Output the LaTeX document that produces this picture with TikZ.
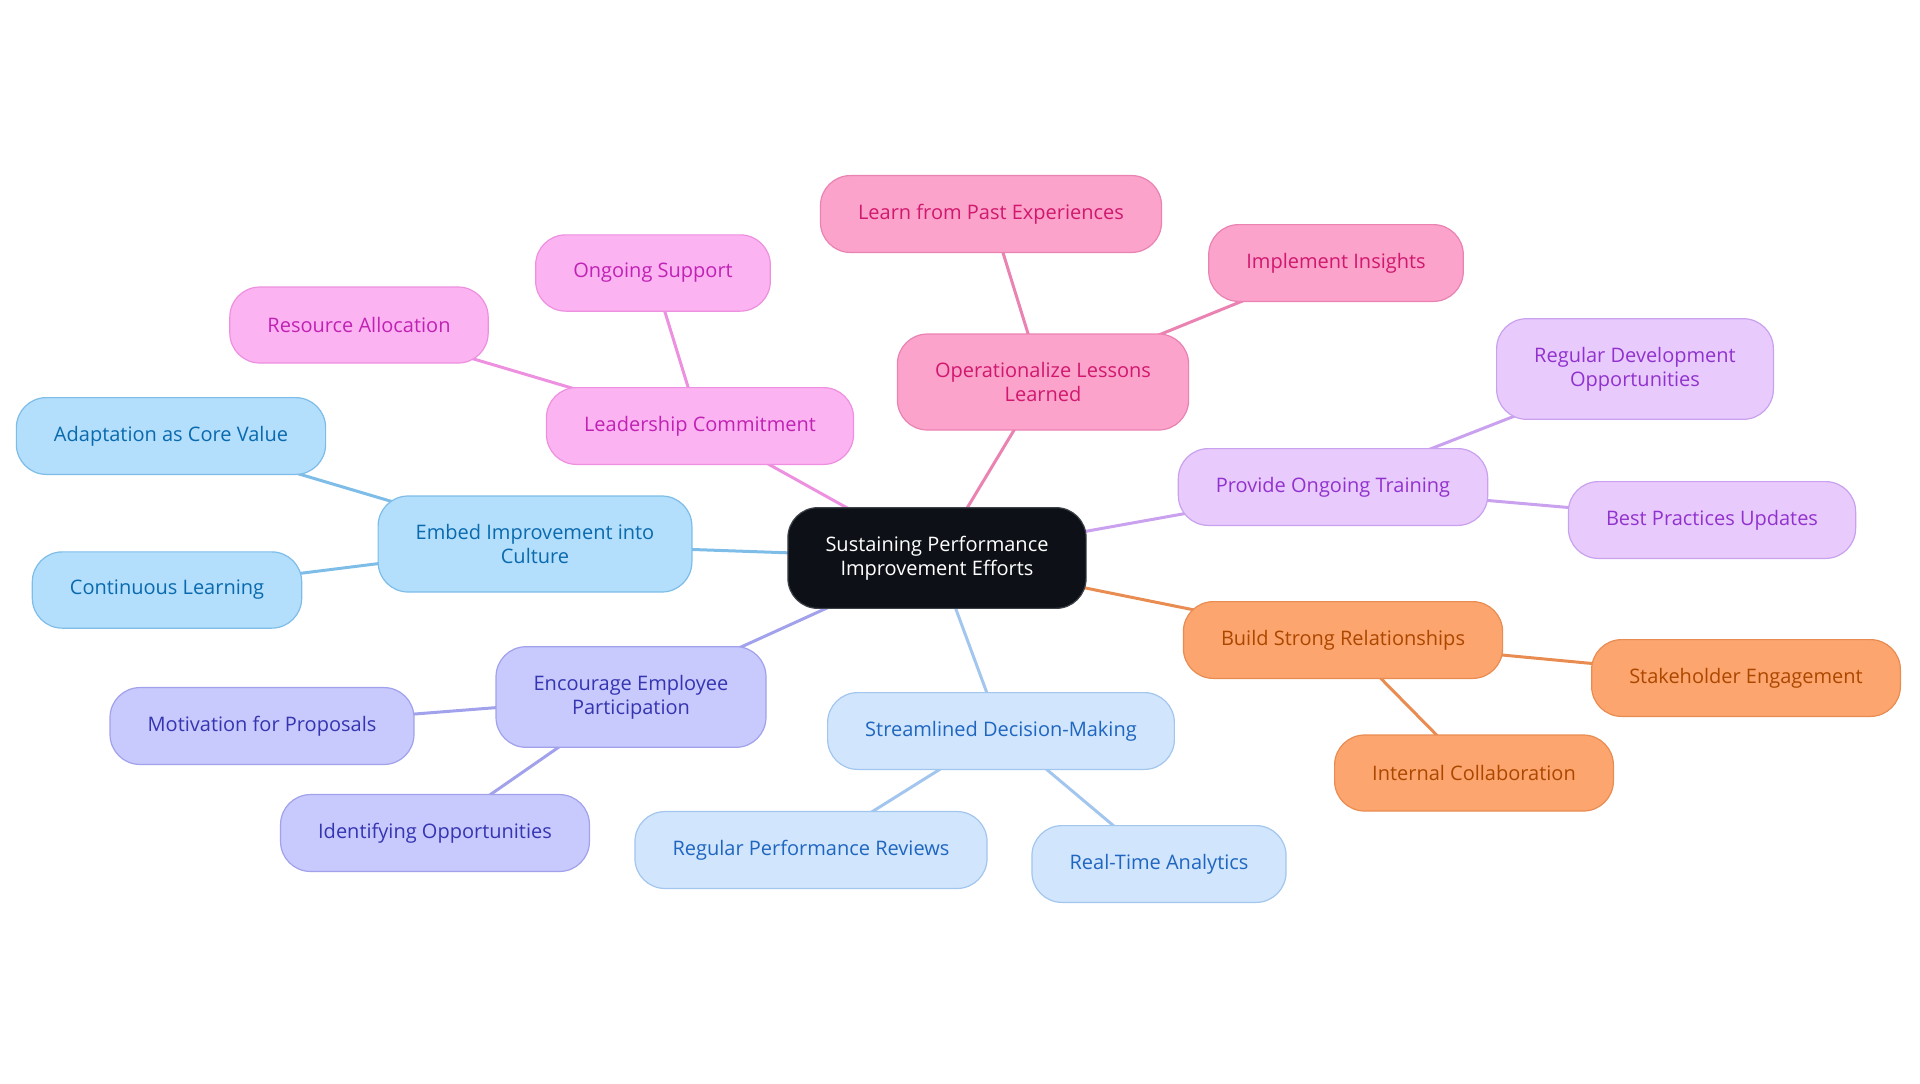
\documentclass[tikz,border=0pt]{standalone}
\usepackage{fontspec}
\setmainfont{Open Sans}
\usetikzlibrary{positioning, backgrounds}

\definecolor{rootfill}{HTML}{0D1117}
\definecolor{rootdraw}{HTML}{3C4148}
\definecolor{embedfill}{HTML}{B3DEFC}
\definecolor{embeddraw}{HTML}{7DBDE8}
\definecolor{embedtext}{HTML}{0A6AAE}
\definecolor{leadfill}{HTML}{FCB3F2}
\definecolor{leaddraw}{HTML}{EE90E0}
\definecolor{leadtext}{HTML}{C022B4}
\definecolor{lessonfill}{HTML}{FCA3CB}
\definecolor{lessondraw}{HTML}{EA82B2}
\definecolor{lessontext}{HTML}{D0186E}
\definecolor{trainfill}{HTML}{E8CBFC}
\definecolor{traindraw}{HTML}{C9A1EE}
\definecolor{traintext}{HTML}{9232CE}
\definecolor{relatfill}{HTML}{FCA56E}
\definecolor{relatdraw}{HTML}{E98C52}
\definecolor{relattext}{HTML}{AC4700}
\definecolor{decidefill}{HTML}{D1E5FC}
\definecolor{decidedraw}{HTML}{A3C6EE}
\definecolor{decidetext}{HTML}{1F66C0}
\definecolor{engagefill}{HTML}{C8C9FC}
\definecolor{engagedraw}{HTML}{A1A1EC}
\definecolor{engagetext}{HTML}{3535B2}

\begin{document}
\begin{tikzpicture}[
  x=0.5pt, y=-0.5pt,
  box/.style={rectangle, rounded corners=15pt, draw, line width=0.6pt, minimum height=38pt,
    inner xsep=18.8pt, inner ysep=14.2pt, align=center, font=\fontsize{10}{11.9}\selectfont},
  rootbox/.style={box, fill=rootfill, draw=rootdraw, text=white},
  embedbox/.style={box, fill=embedfill, draw=embeddraw, text=embedtext},
  leadbox/.style={box, fill=leadfill, draw=leaddraw, text=leadtext},
  lessonbox/.style={box, fill=lessonfill, draw=lessondraw, text=lessontext},
  trainbox/.style={box, fill=trainfill, draw=traindraw, text=traintext},
  relatbox/.style={box, fill=relatfill, draw=relatdraw, text=relattext},
  decidebox/.style={box, fill=decidefill, draw=decidedraw, text=decidetext},
  engagebox/.style={box, fill=engagefill, draw=engagedraw, text=engagetext},
  link/.style={line width=1.5pt}
]
  \useasboundingbox (0,0) rectangle (1920,1083);

  \node[rootbox] (root) at (937,558) {Sustaining Performance\\Improvement Efforts};

  \node[embedbox] (embed) at (535,544) {Embed Improvement into\\Culture};
  \node[embedbox] (adapt) at (171,436) {Adaptation as Core Value};
  \node[embedbox] (learn) at (167,590) {Continuous Learning};

  \node[leadbox] (lead) at (700,426) {Leadership Commitment};
  \node[leadbox] (alloc) at (359,325) {Resource Allocation};
  \node[leadbox] (support) at (653,273) {Ongoing Support};

  \node[lessonbox] (lessons) at (1043,382) {Operationalize Lessons\\Learned};
  \node[lessonbox] (past) at (991,214) {Learn from Past Experiences};
  \node[lessonbox] (insights) at (1336,263) {Implement Insights};

  \node[trainbox] (training) at (1333,487) {Provide Ongoing Training};
  \node[trainbox] (devopp) at (1635,369) {Regular Development\\Opportunities};
  \node[trainbox] (bestprac) at (1712,520) {Best Practices Updates};

  \node[relatbox] (relat) at (1343,640) {Build Strong Relationships};
  \node[relatbox] (stake) at (1746,678) {Stakeholder Engagement};
  \node[relatbox] (collab) at (1474,773) {Internal Collaboration};

  \node[decidebox] (decide) at (1001,731) {Streamlined Decision-Making};
  \node[decidebox] (reviews) at (811,850) {Regular Performance Reviews};
  \node[decidebox] (analytics) at (1159,864) {Real-Time Analytics};

  \node[engagebox] (engage) at (631,697) {Encourage Employee\\Participation};
  \node[engagebox] (motiv) at (262,726) {Motivation for Proposals};
  \node[engagebox] (identify) at (435,833) {Identifying Opportunities};

  % connectors behind the boxes
  \begin{scope}[on background layer]
    \draw[link, embeddraw] (root.center) -- (embed.center);
    \draw[link, embeddraw] (embed.center) -- (adapt.center);
    \draw[link, embeddraw] (embed.center) -- (learn.center);
    \draw[link, leaddraw] (root.center) -- (lead.center);
    \draw[link, leaddraw] (lead.center) -- (alloc.center);
    \draw[link, leaddraw] (lead.center) -- (support.center);
    \draw[link, lessondraw] (root.center) -- (lessons.center);
    \draw[link, lessondraw] (lessons.center) -- (past.center);
    \draw[link, lessondraw] (lessons.center) -- (insights.center);
    \draw[link, traindraw] (root.center) -- (training.center);
    \draw[link, traindraw] (training.center) -- (devopp.center);
    \draw[link, traindraw] (training.center) -- (bestprac.center);
    \draw[link, relatdraw] (root.center) -- (relat.center);
    \draw[link, relatdraw] (relat.center) -- (stake.center);
    \draw[link, relatdraw] (relat.center) -- (collab.center);
    \draw[link, decidedraw] (root.center) -- (decide.center);
    \draw[link, decidedraw] (decide.center) -- (reviews.center);
    \draw[link, decidedraw] (decide.center) -- (analytics.center);
    \draw[link, engagedraw] (root.center) -- (engage.center);
    \draw[link, engagedraw] (engage.center) -- (motiv.center);
    \draw[link, engagedraw] (engage.center) -- (identify.center);
  \end{scope}
\end{tikzpicture}
\end{document}
